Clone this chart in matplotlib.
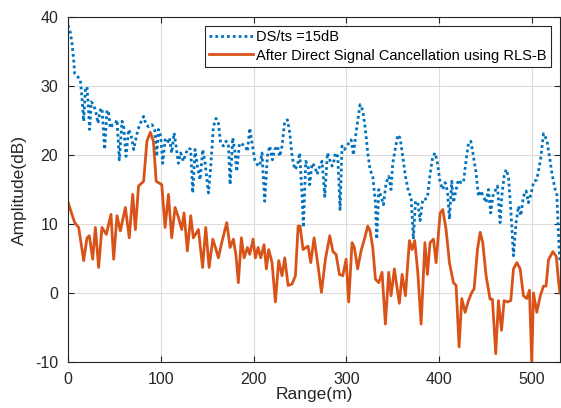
import matplotlib
matplotlib.use("Agg")
import matplotlib.pyplot as plt

plt.rcParams['font.family'] = ['Liberation Sans', 'DejaVu Sans']
plt.rcParams['axes.unicode_minus'] = False

# DS/ts = 15dB (before cancellation)
range_ds = [0, 2.5, 4.3, 6.1, 7.2, 10.8, 13.3, 15.1, 16.9, 18.7, 20.5, 22.3, 23.3, 25.1, 27.7,
            30.2, 32.3, 34.8, 36.6, 38.4, 39.5, 42, 43.8, 45.6, 48.1, 51, 52.8, 55.3, 58.2, 60,
            62.5, 65.4, 67.9, 70.8, 72.6, 75.4, 78, 81.5, 84, 87, 90.5, 93.4, 95.5, 97.4, 99.9,
            102, 104.6, 107, 109.2, 111.7, 114.3, 116.4, 118.9, 121.4, 124.3, 127.2, 129.7, 132.2,
            134.4, 136.9, 139.4, 142.3, 145.2, 147.7, 151.3, 153.8, 156.6, 159.5, 162, 164.5,
            167.4, 170.3, 172.8, 174.6, 177.5, 180, 181.8, 184.7, 188.5, 191.1, 193.3, 195.8,
            198.3, 201.2, 204, 206.5, 209, 211.9, 214.8, 217.3, 220.2, 222.7, 225.6, 228.1, 230.6,
            233.5, 236.4, 238.9, 241.4, 244.3, 247.1, 249.6, 252.2, 253.6, 256.1, 258.6, 260.4,
            262.9, 265.8, 268.3, 271.2, 273.7, 276.6, 279.5, 282, 284.5, 286, 288, 290.6, 293.1,
            295.2, 297.8, 300.3, 302.4, 305, 307.5, 309.6, 312.1, 314.6, 317.5, 320.4, 322.9,
            325.4, 328.3, 331.2, 332.6, 334.8, 337.3, 339.8, 342.7, 345.5, 348, 349.8, 352.4,
            355.2, 357.7, 360.6, 363.5, 367.1, 369.6, 372.1, 374.3, 376.8, 379.3, 382.2, 384.7,
            387.2, 390, 393, 395.5, 398, 400.9, 403.7, 406.2, 408.8, 410.9, 413.4, 415.2, 418.1,
            420.6, 423.1, 426, 428.9, 431.4, 433.9, 436.8, 439.6, 442.2, 444.7, 447.5, 450.4,
            452.9, 455.4, 457.6, 460.1, 462.6, 465.5, 467.3, 469.8, 472, 474.5, 477, 479.9, 482.7,
            485.3, 487.8, 490.6, 493.5, 496, 499, 501.8, 505, 509, 512.2, 515.8, 519, 521.2,
            524.8, 526.5, 528.5, 530]
amp_ds = [38.8, 37.8, 36.2, 33.8, 31.8, 31.3, 30.9, 28.2, 24.9, 29.4, 29.9, 26.1, 23.7, 27.7, 27.3,
          26.1, 24.6, 26.5, 26.8, 23.2, 20.8, 26.5, 26.1, 23.9, 24.4, 24.6, 25.1, 19.3, 24.9, 24.1,
          19.8, 23.7, 22.9, 20.8, 22.0, 23.7, 24.6, 25.6, 24.4, 24.1, 24.4, 23.7, 19.8, 23.7, 22.7,
          18.8, 22.2, 21.7, 22.5, 20.3, 23.2, 21.3, 18.8, 20.3, 19.1, 20.3, 21.0, 20.8,
          14.5, 20.8, 18.4, 16.4, 20.8, 18.8, 14.5, 18.4, 24.1, 25.3, 24.6, 21.7,
          21.3, 22.0, 21.7, 15.7, 22.5, 20.3, 17.6, 21.7, 21.5, 21.3, 20.5, 23.9,
          21.7, 19.3, 18.6, 18.4, 20.3, 13.3, 19.8, 21.3, 19.3, 20.8, 21.3, 19.8, 21.3,
          24.9, 25.1, 23.2, 19.8, 17.9, 18.4, 20.3, 14.0, 9.5, 19.1, 18.4, 15.7,
          18.8, 18.4, 17.2, 18.4, 19.1, 14.0, 20.3, 19.3, 18.4, 18.8, 20.3, 19.8, 12.1,
          21.3, 20.8, 21.3, 21.7, 22.2, 20.0, 22.5, 24.9, 27.3, 26.5, 23.7, 20.3,
          17.9, 16.9, 13.1, 7.8, 15.0, 14.0, 12.8, 16.0, 16.9, 15.0, 18.8, 20.8,
          22.9, 22.5, 19.8, 16.9, 14.5, 14.0, 7.8, 13.3, 13.1, 10.5, 13.6, 13.6,
          13.8, 17.2, 19.8, 20.3, 18.8, 16.0, 15.0, 16.0, 14.8, 10.7, 16.2, 13.1, 15.0,
          16.4, 16.0, 16.0, 19.3, 21.7, 22.0, 19.8, 17.4, 14.0, 14.8, 14.0, 13.1,
          15.0, 11.6, 14.0, 14.8, 15.5, 10.2, 14.0, 16.9, 17.9, 16.9, 12.1, 5.4, 10.2,
          12.6, 11.2, 14.0, 14.8, 13.1, 14.5, 16.2, 16.4, 19.3, 23.1, 22.2, 19.5, 17.4,
          15.0, 14.5, 8.0, 4.4]

# after direct signal cancellation (RLS-B)
range_rls = [0, 4, 7.2, 11.5, 16.9, 20.5, 23, 26.6, 29.5, 33, 36.6, 41.3, 46.3, 49.2, 52.8, 56.4,
             61.8, 66, 69.7, 72.6, 76, 81.5, 85, 88.7, 92, 95, 101, 104.6, 108.2, 111.7, 115.3,
             118.9, 122.5, 125, 128.6, 132.2, 135, 140.5, 145, 148.4, 152, 156, 159.5, 162, 165.6,
             171, 174.6, 178.2, 181, 183.5, 186.8, 189.7, 193.3, 195.8, 199.4, 201.9, 204.8,
             207.6, 211.2, 213.7, 216.2, 219.8, 223.4, 227, 230.6, 233.5, 237.1, 241.4, 245,
             247.9, 250, 253.2, 258.6, 261.5, 265.1, 269.4, 273, 277.3, 282, 285.4, 288.8, 292.4,
             296, 299.6, 302.4, 306, 308.5, 312, 315.7, 319.3, 322.9, 325.4, 328.3, 331.2, 334.8,
             338.3, 341.9, 345.5, 348, 351.6, 354.1, 357, 359.9, 363.5, 367.8, 370.7, 373.5,
             376.8, 380.4, 384.5, 387.2, 390, 393.7, 396.5, 400.9, 403.7, 407.3, 410.9, 415.2,
             418.1, 421.3, 424.2, 427.8, 431.4, 435, 437.5, 441.1, 444, 446.8, 450.4, 454.7,
             457.2, 460.8, 463.7, 467, 469.8, 473.4, 477, 479.9, 483.5, 487.1, 490.6, 494.2,
             497.1, 499.6, 501.4, 505, 508.6, 512.2, 515, 517.6, 522.3, 526, 528.6, 530]
amp_rls = [13.2, 11.5, 10.2, 9.5, 4.7, 8.0, 8.3, 4.9, 9.5, 3.7, 9.5, 8.5, 11.4, 4.9, 11.2, 9.0,
           12.4, 8.0, 14.3, 9.2, 15.5, 16.2, 22.0, 23.3, 22.0, 16.2, 15.7, 9.5, 14.3, 8.0, 12.4,
           11.0, 9.2, 11.6, 6.1, 11.2, 8.0, 9.2, 3.7, 9.5, 3.7, 7.8, 6.3, 5.1, 7.3,
           10.2, 6.6, 7.8, 5.4, 1.5, 8.0, 5.1, 6.6, 5.6, 7.8, 5.1, 6.6,
           5.1, 7.0, 3.5, 6.3, 4.4, -1.3, 4.7, 2.5, 5.1, 1.1, 1.3, 2.5,
           9.7, 9.7, 6.3, 6.8, 4.4, 8.0, 3.9, 0.1, 4.9, 8.3, 6.0, 5.6, 2.7,
           2.5, 4.9, -1.3, 7.3, 6.6, 3.5, 6.1, 7.8, 9.7, 9.0, 6.6, 2.0, 1.5,
           3.0, -4.5, 3.0, -0.4, 3.5, 1.1, -1.5, 2.7, -0.4, 7.6, 6.3, 7.6,
           3.0, -4.5, 7.3, 2.7, 7.3, 7.8, 4.4, 11.6, 12.1, 9.2, 4.4, 1.5,
           1.1, -7.8, -0.8, -2.8, -1.1, 0.1, 0.6, 6.3, 8.8, 7.3, 2.5, -0.9,
           -0.9, -8.8, -1.1, -5.4, -1.1, -1.3, -1.1, 3.5, 4.4, 3.5, -0.4, -0.8,
           0.4, -10.2, 0.0, -2.8, -0.5, 1.0, 1.0, 4.8, 6.0, 5.3, 1.5, 0.0]

fig = plt.figure(figsize=(5.61, 4.08), dpi=100)
ax = fig.add_axes([0.1212, 0.1127, 0.877, 0.8456])

ax.plot(range_ds, amp_ds, color='#0072BD', linestyle=(0, (1, 1.1)), linewidth=2.0,
        label='DS/ts =15dB')
ax.plot(range_rls, amp_rls, color='#D95319', linestyle='-', linewidth=2.0,
        label='After Direct Signal Cancellation using RLS-B')

ax.set_xlim(0, 530)
ax.set_ylim(-10, 40)
ax.set_xticks([0, 100, 200, 300, 400, 500])
ax.set_yticks([-10, 0, 10, 20, 30, 40])
ax.grid(True, color='#dcdcdc', linewidth=0.8)
ax.set_axisbelow(True)
ax.tick_params(direction='in', top=True, right=True, labelsize=11.5, colors='#262626',
               length=4, pad=7)
for s in ax.spines.values():
    s.set_color('#262626')
    s.set_linewidth(0.8)

ax.set_xlabel('Range(m)', fontsize=12.5, color='#262626', labelpad=0)
ax.set_ylabel('Amplitude(dB)', fontsize=12.5, color='#262626', labelpad=6)

leg = ax.legend(loc='upper right', fontsize=10.5, fancybox=False, framealpha=1,
                edgecolor='#262626', handlelength=3.0, borderpad=0.3, labelspacing=0.3,
                borderaxespad=0.6, handletextpad=0.25)
leg.get_frame().set_linewidth(0.8)

fig.savefig('out.png', dpi=100)
